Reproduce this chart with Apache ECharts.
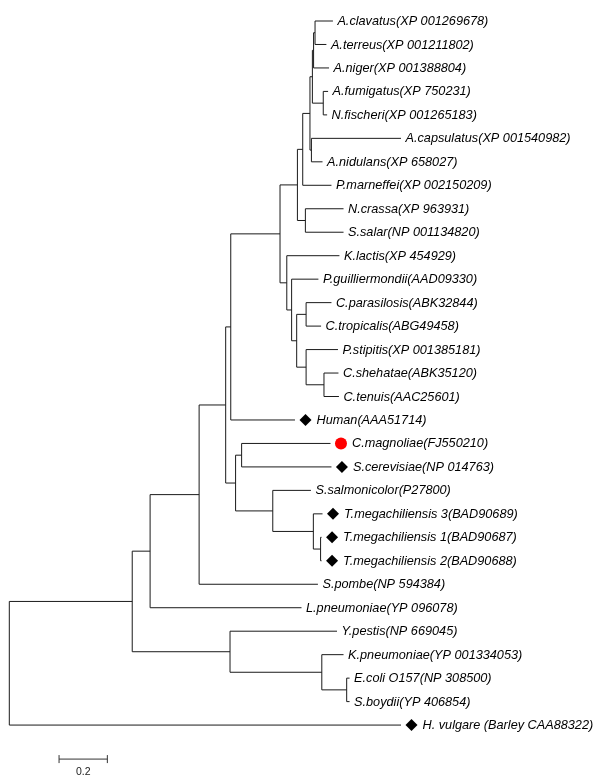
<!DOCTYPE html>
<html><head><meta charset="utf-8">
<script src="https://cdn.jsdelivr.net/npm/echarts@6/dist/echarts.min.js"></script>
<style>html,body{margin:0;padding:0;background:#fff}#c{width:600px;height:781px}</style>
</head><body><div id="c"></div>
<script>
// ---- Leaves (top to bottom) ----
const leafNames = [
  'A.clavatus(XP 001269678)', 'A.terreus(XP 001211802)', 'A.niger(XP 001388804)',
  'A.fumigatus(XP 750231)', 'N.fischeri(XP 001265183)', 'A.capsulatus(XP 001540982)',
  'A.nidulans(XP 658027)', 'P.marneffei(XP 002150209)', 'N.crassa(XP 963931)',
  'S.salar(NP 001134820)', 'K.lactis(XP 454929)', 'P.guilliermondii(AAD09330)',
  'C.parasilosis(ABK32844)', 'C.tropicalis(ABG49458)', 'P.stipitis(XP 001385181)',
  'C.shehatae(ABK35120)', 'C.tenuis(AAC25601)', 'Human(AAA51714)',
  'C.magnoliae(FJ550210)', 'S.cerevisiae(NP 014763)', 'S.salmonicolor(P27800)',
  'T.megachiliensis 3(BAD90689)', 'T.megachiliensis 1(BAD90687)', 'T.megachiliensis 2(BAD90688)',
  'S.pombe(NP 594384)', 'L.pneumoniae(YP 096078)', 'Y.pestis(NP 669045)',
  'K.pneumoniae(YP 001334053)', 'E.coli O157(NP 308500)', 'S.boydii(YP 406854)',
  'H. vulgare (Barley CAA88322)'
];
const leafDepths = [
  1.340, 1.313, 1.324, 1.320, 1.316, 1.622, 1.297, 1.334, 1.384, 1.384,
  1.367, 1.280, 1.334, 1.291, 1.361, 1.363, 1.365, 1.183, 1.330, 1.334,
  1.249, 1.297, 1.293, 1.293, 1.278, 1.210, 1.357, 1.384, 1.409, 1.409, 1.622
];
const leafParents = [
  'Z1','Z1','Z','FF','FF','Y','Y','V','NS','NS',
  'G2','G3','G5','G5','G6','G7','G7','E','H','H',
  'I','J','K','K','C','B','Ent','Ent2','Ent3','Ent3','root'
];
const leafMarkers = [
  '','','','','','','','','','',
  '','','','','','','','diamond','circle','diamond',
  '','diamond','diamond','diamond','','','','','','','diamond'
];
// ---- Internal nodes ----
const nodeIds =     ['root','A','B','C','D','E','G','U','V','W','X','Z','Z1','FF','Y','NS','G2','G3','G4','G5','G6','G7','F','H','I','J','K','Ent','Ent2','Ent3'];
const nodeDepths =  [0.000,0.509,0.583,0.786,0.896,0.917,1.121,1.193,1.215,1.245,1.255,1.260,1.266,1.300,1.251,1.226,1.149,1.169,1.190,1.229,1.229,1.303,0.937,0.962,1.091,1.259,1.289,0.914,1.294,1.397];
const nodeParents = [null,'root','A','B','C','D','E','G','U','V','W','X','Z','X','W','U','G','G2','G3','G4','G4','G6','D','F','F','I','J','A','Ent','Ent2'];
// ---- Scale bar ----
const scaleBarStart = 0.206;
const scaleBarLength = 0.2;
const scaleBarLabel = '0.2';

// ---- Build tree geometry ----
const depthOf = {}, yOf = {}, children = {};
nodeIds.forEach((id, i) => { depthOf[id] = nodeDepths[i]; children[id] = []; });
leafNames.forEach((n, i) => { depthOf['leaf' + i] = leafDepths[i]; yOf['leaf' + i] = i; children[leafParents[i]].push('leaf' + i); });
nodeIds.forEach((id, i) => { if (nodeParents[i]) children[nodeParents[i]].push(id); });
function calcY(id) {
  if (yOf[id] !== undefined) return yOf[id];
  const ys = children[id].map(calcY);
  yOf[id] = (Math.min(...ys) + Math.max(...ys)) / 2;
  return yOf[id];
}
calcY('root');
const segments = [];
nodeIds.forEach(id => {
  const ys = children[id].map(c => yOf[c]);
  segments.push([depthOf[id], Math.min(...ys), depthOf[id], Math.max(...ys)]);
  children[id].forEach(c => segments.push([depthOf[id], yOf[c], depthOf[c], yOf[c]]));
});
const labelData = leafNames.map((n, i) => [leafDepths[i], i, n, leafMarkers[i]]);
const diamondData = [], circleData = [];
leafMarkers.forEach((m, i) => {
  if (m === 'diamond') diamondData.push([leafDepths[i], i]);
  if (m === 'circle') circleData.push([leafDepths[i], i]);
});
const scaleRow = 31.45, scaleLabelRow = 32.02;

const chart = echarts.init(document.getElementById('c'), null, {renderer: 'canvas'});
chart.setOption({
  animation: false,
  backgroundColor: '#fff',
  grid: {left: 9.3, right: 107.7, top: 21, bottom: 9},
  xAxis: {type: 'value', min: 0, max: 2, show: false},
  yAxis: {type: 'value', min: 0, max: 32, inverse: true, show: false},
  series: [
    {
      type: 'custom', coordinateSystem: 'cartesian2d', clip: false,
      data: segments, encode: {x: [0, 2], y: [1, 3]},
      renderItem: (params, api) => {
        const p1 = api.coord([api.value(0), api.value(1)]);
        const p2 = api.coord([api.value(2), api.value(3)]);
        return {type: 'line', shape: {x1: p1[0], y1: p1[1], x2: p2[0], y2: p2[1]},
          style: {stroke: '#1a1a1a', lineWidth: 1}};
      }
    },
    {
      type: 'custom', coordinateSystem: 'cartesian2d', clip: false,
      data: labelData, encode: {x: 0, y: 1},
      renderItem: (params, api) => {
        const p = api.coord([api.value(0), api.value(1)]);
        const item = labelData[params.dataIndex];
        const off = item[3] ? 21.5 : 4.5;
        return {type: 'text', x: p[0] + off, y: p[1] + 0.5,
          style: {text: item[2], fill: '#000', fontStyle: 'italic', fontSize: 12.7,
            fontFamily: '"Liberation Sans", Arial, sans-serif', align: 'left', verticalAlign: 'middle'}};
      }
    },
    {
      type: 'scatter', data: diamondData, symbol: 'diamond', symbolSize: 12,
      symbolOffset: [10.5, 0], itemStyle: {color: '#000', opacity: 1}, silent: true
    },
    {
      type: 'scatter', data: circleData, symbol: 'circle', symbolSize: 12,
      symbolOffset: [10.5, 0], itemStyle: {color: '#ff0000', opacity: 1}, silent: true
    },
    {
      type: 'custom', coordinateSystem: 'cartesian2d', clip: false,
      data: [[scaleBarStart, scaleRow, scaleBarStart + scaleBarLength, scaleRow]], encode: {x: [0, 2], y: [1, 3]},
      renderItem: (params, api) => {
        const p1 = api.coord([api.value(0), api.value(1)]);
        const p2 = api.coord([api.value(2), api.value(3)]);
        const lp = api.coord([(api.value(0) + api.value(2)) / 2, scaleLabelRow]);
        const st = {stroke: '#333', lineWidth: 1};
        return {type: 'group', children: [
          {type: 'line', shape: {x1: p1[0], y1: p1[1], x2: p2[0], y2: p2[1]}, style: st},
          {type: 'line', shape: {x1: p1[0], y1: p1[1] - 4, x2: p1[0], y2: p1[1] + 4}, style: st},
          {type: 'line', shape: {x1: p2[0], y1: p2[1] - 4, x2: p2[0], y2: p2[1] + 4}, style: st},
          {type: 'text', x: lp[0], y: lp[1], style: {text: scaleBarLabel, fill: '#222', fontSize: 10.5,
            fontFamily: '"Liberation Sans", Arial, sans-serif', align: 'center', verticalAlign: 'middle'}}
        ]};
      }
    }
  ]
});
</script></body></html>
